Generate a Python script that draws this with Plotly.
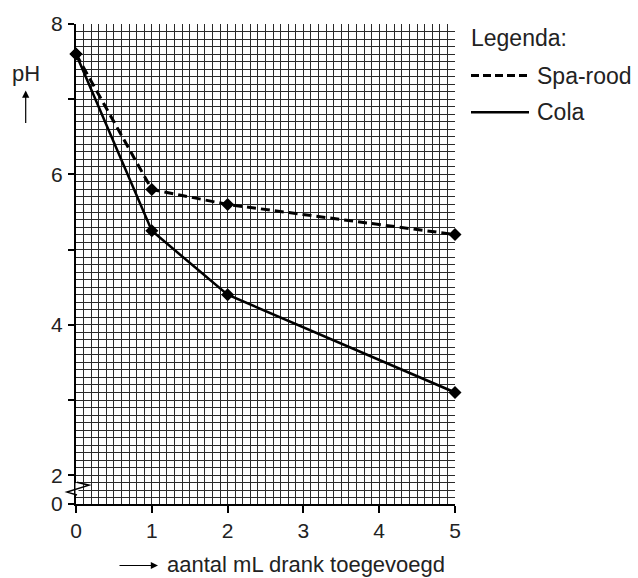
import numpy as np
import plotly.graph_objects as go

# Data
x_vals = [0, 1, 2, 5]
spa_rood = [7.6, 5.8, 5.6, 5.2]
cola = [7.6, 5.25, 4.4, 3.1]

x_ticks = [0, 1, 2, 3, 4, 5]
x_labels = ["0", "1", "2", "3", "4", "5"]
y_bottom = 1.617
y_ticks = [y_bottom, 2, 3, 4, 5, 6, 7, 8]
y_labels = ["0", "2", "", "4", "", "6", "", "8"]

FONT = "Liberation Sans, Arial, sans-serif"
W, H = 638, 578
L, R, T, B = 76, 183, 20, 74
PW, PH = W - L - R, H - T - B


def px(xp):
    return (xp - L) / PW


def py(yp):
    return (H - B - yp) / PH


fig = go.Figure()
fig.add_trace(go.Scatter(
    x=x_vals, y=spa_rood, mode="lines+markers", name="Spa-rood",
    line=dict(color="black", width=3, dash="9px,5px"),
    marker=dict(symbol="diamond", size=10, color="black"),
    cliponaxis=False, showlegend=False))
fig.add_trace(go.Scatter(
    x=x_vals, y=cola, mode="lines+markers", name="Cola",
    line=dict(color="black", width=2.5),
    marker=dict(symbol="diamond", size=10, color="black"),
    cliponaxis=False, showlegend=False))

grid_col = "#2a2a2a"
fig.update_xaxes(
    range=[0, 5], tickmode="array", tickvals=x_ticks, ticktext=x_labels,
    ticks="outside", ticklen=7, tickwidth=1.5, tickcolor="black",
    showline=True, linecolor="black", linewidth=2,
    showgrid=True, gridcolor=grid_col, gridwidth=1,
    minor=dict(tickvals=list(np.round(np.arange(0, 5.01, 0.1), 2)),
               showgrid=True, gridcolor=grid_col, gridwidth=1, ticks=""),
    zeroline=False, ticklabelstandoff=0,
    tickfont=dict(family=FONT, size=21, color="#222"))
fig.update_yaxes(
    range=[y_bottom, 8], tickmode="array", tickvals=y_ticks, ticktext=y_labels,
    ticks="outside", ticklen=6, tickwidth=1.5, tickcolor="black",
    showline=True, linecolor="black", linewidth=2,
    showgrid=True, gridcolor=grid_col, gridwidth=1,
    minor=dict(tickvals=list(np.round(np.arange(1.7, 8.01, 0.1), 2)),
               showgrid=True, gridcolor=grid_col, gridwidth=1, ticks=""),
    zeroline=False, ticklabelstandoff=1,
    tickfont=dict(family=FONT, size=21, color="#222"))

shapes = []
annotations = []

# Axis break zigzag (white gap in axis line, then zigzag)
shapes.append(dict(type="line", xref="paper", yref="paper",
                   x0=px(77), x1=px(77), y0=py(483), y1=py(494),
                   line=dict(color="white", width=3), layer="above"))
shapes.append(dict(
    type="path", xref="paper", yref="paper",
    path=f"M {px(77)} {py(482)} L {px(89)} {py(485)} L {px(67)} {py(492)} L {px(77)} {py(495)}",
    line=dict(color="black", width=1.5), layer="above"))

# Legend
annotations.append(dict(xref="paper", yref="paper", x=px(469), y=py(34),
                        text="Legenda:", showarrow=False, xanchor="left", yanchor="middle",
                        font=dict(family=FONT, size=23, color="#222")))
shapes.append(dict(type="line", xref="paper", yref="paper",
                   x0=px(471), x1=px(529), y0=py(72), y1=py(72),
                   line=dict(color="black", width=3, dash="8px,4px")))
annotations.append(dict(xref="paper", yref="paper", x=px(535), y=py(72),
                        text="Spa-rood", showarrow=False, xanchor="left", yanchor="middle",
                        font=dict(family=FONT, size=23, color="#222")))
shapes.append(dict(type="line", xref="paper", yref="paper",
                   x0=px(471), x1=px(529), y0=py(109), y1=py(109),
                   line=dict(color="black", width=2.5)))
annotations.append(dict(xref="paper", yref="paper", x=px(535), y=py(109),
                        text="Cola", showarrow=False, xanchor="left", yanchor="middle",
                        font=dict(family=FONT, size=23, color="#222")))

# pH label with up arrow
annotations.append(dict(xref="paper", yref="paper", x=px(26), y=py(70),
                        text="pH", showarrow=False, xanchor="center", yanchor="middle",
                        font=dict(family=FONT, size=22, color="#222")))
annotations.append(dict(xref="paper", yref="paper", x=px(25.7), y=py(87),
                        text="", showarrow=True, ax=0, ay=34, axref="pixel", ayref="pixel",
                        arrowhead=2, arrowsize=1.2, arrowwidth=1.2, arrowcolor="black"))

# x axis title with right arrow
annotations.append(dict(xref="paper", yref="paper", x=px(158), y=py(566),
                        text="", showarrow=True, ax=-40, ay=0, axref="pixel", ayref="pixel",
                        arrowhead=2, arrowsize=1.2, arrowwidth=1.2, arrowcolor="black"))
annotations.append(dict(xref="paper", yref="paper", x=px(165), y=py(565),
                        text="aantal mL drank toegevoegd", showarrow=False,
                        xanchor="left", yanchor="middle",
                        font=dict(family=FONT, size=22, color="#222")))

fig.update_layout(
    width=W, height=H, margin=dict(l=L, r=R, t=T, b=B, pad=0),
    plot_bgcolor="white", paper_bgcolor="white",
    shapes=shapes, annotations=annotations, showlegend=False)

fig.write_html(
    "out.html",
    config={"displayModeBar": False},
    post_script="document.body.style.margin='0';document.body.style.overflow='hidden';")
